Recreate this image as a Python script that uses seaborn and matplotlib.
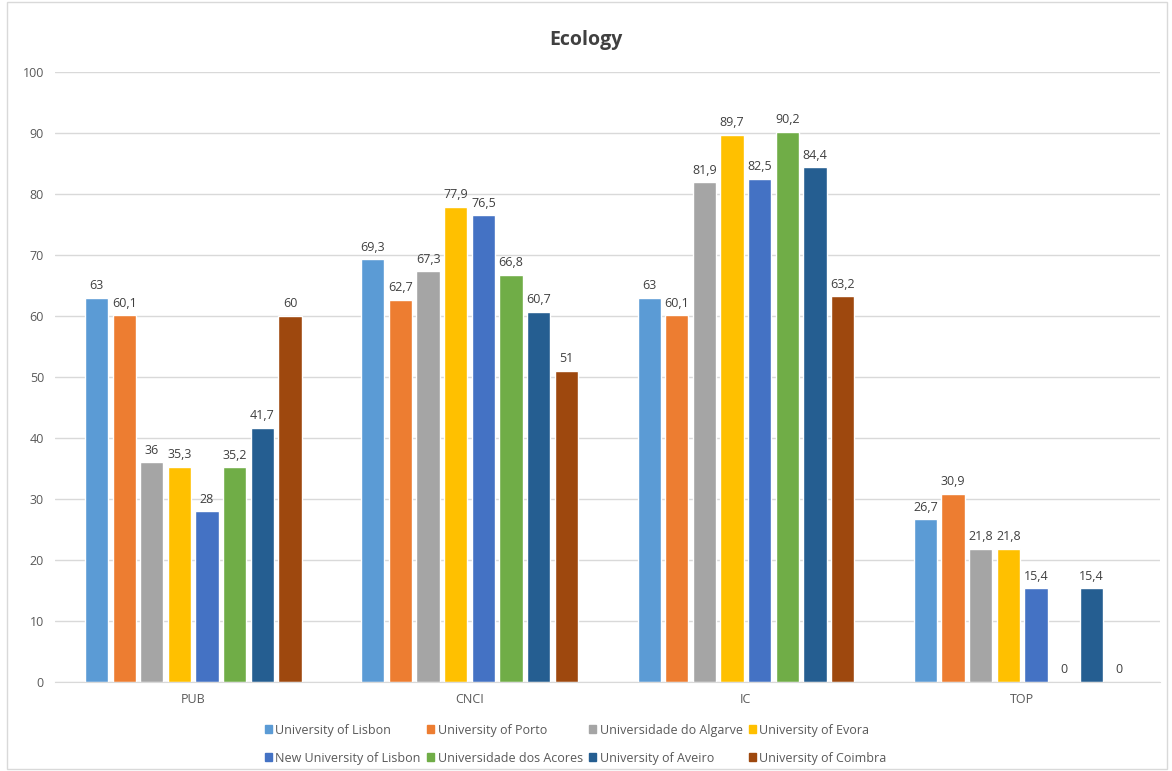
import pandas as pd
import matplotlib.pyplot as plt
import seaborn as sns

# data
metrics = ["PUB", "CNCI", "IC", "TOP"]
universities = ["University of Lisbon", "University of Porto", "Universidade do Algarve",
                "University of Evora", "New University of Lisbon", "Universidade dos Acores",
                "University of Aveiro", "University of Coimbra"]
lisbon = [63, 69.3, 63, 26.7]
porto = [60.1, 62.7, 60.1, 30.9]
algarve = [36, 67.3, 81.9, 21.8]
evora = [35.3, 77.9, 89.7, 21.8]
new_lisbon = [28, 76.5, 82.5, 15.4]
acores = [35.2, 66.8, 90.2, 0]
aveiro = [41.7, 60.7, 84.4, 15.4]
coimbra = [60, 51, 63.2, 0]
colors = ["#5B9BD5", "#ED7D31", "#A5A5A5", "#FFC000", "#4472C4", "#70AD47", "#255E91", "#9E480E"]

series = [lisbon, porto, algarve, evora, new_lisbon, acores, aveiro, coimbra]
rows = []
for uni, vals in zip(universities, series):
    for m, v in zip(metrics, vals):
        rows.append({"metric": m, "university": uni, "value": v})
df = pd.DataFrame(rows)

sns.set_style("white")
plt.rcParams["font.family"] = ["Open Sans", "DejaVu Sans"]

fig = plt.figure(figsize=(11.72, 7.71), dpi=100)
ax = fig.add_axes([0.047, 0.1154, 0.943, 0.7912])
sns.barplot(data=df, x="metric", y="value", hue="university", order=metrics,
            hue_order=universities, palette=colors, width=0.8, gap=0.16,
            saturation=1, errorbar=None, ax=ax, legend=False)

for cont in ax.containers:
    labels = [f"{v:g}".replace(".", ",") for v in cont.datavalues]
    ax.bar_label(cont, labels=labels, padding=4, fontsize=9, color="#404040")

ax.set_ylim(0, 100)
ax.set_yticks(range(0, 101, 10))
ax.yaxis.grid(True, color="#D9D9D9", linewidth=1)
ax.set_axisbelow(True)
for s in ["top", "right", "left"]:
    ax.spines[s].set_visible(False)
ax.spines["bottom"].set_color("#D9D9D9")
ax.tick_params(axis="both", length=0, labelsize=9, labelcolor="#595959", pad=8)
ax.set_xlabel("")
ax.set_ylabel("")
ax.set_xlim(-0.5, 3.5)
fig.text(0.5, 0.948, "Ecology", ha="center", va="center", fontsize=14,
         fontweight="bold", color="#404040")

# legend filled row by row, like the reference
handles = [plt.Rectangle((0, 0), 1, 1, color=c) for c in colors]
order = [0, 4, 1, 5, 2, 6, 3, 7]
ax.legend([handles[i] for i in order], [universities[i] for i in order],
          loc="upper center", bbox_to_anchor=(0.471, -0.05), ncol=4, frameon=False,
          fontsize=9, handlelength=0.6, handleheight=0.6, handletextpad=0.25,
          columnspacing=0.5, labelspacing=1.2, labelcolor="#595959")

fig.patches.append(plt.Rectangle((0.006, 0.002), 0.99, 0.996, transform=fig.transFigure,
                                 fill=False, edgecolor="#D9D9D9", linewidth=1))
plt.savefig("out.png", dpi=100)
